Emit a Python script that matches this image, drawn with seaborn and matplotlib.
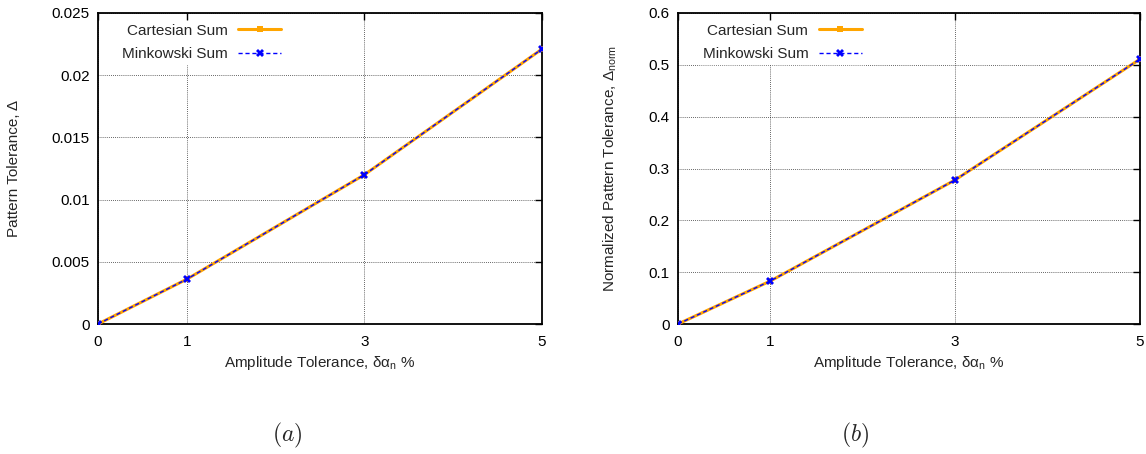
import matplotlib
matplotlib.use("Agg")
import matplotlib.pyplot as plt
import seaborn as sns
import pandas as pd
from matplotlib.ticker import FixedLocator, FuncFormatter

# Amplitude tolerance (percent) and resulting pattern tolerances
amp_tol = [0, 1, 3, 5]
cartesian_abs = [0.0, 0.0036, 0.0120, 0.0221]
minkowski_abs = [0.0, 0.0036, 0.0120, 0.0221]
cartesian_norm = [0.0, 0.083, 0.278, 0.511]
minkowski_norm = [0.0, 0.083, 0.278, 0.511]

series_names = ["Cartesian Sum", "Minkowski Sum"]
left_yticks = [0, 0.005, 0.01, 0.015, 0.02, 0.025]
right_yticks = [0, 0.1, 0.2, 0.3, 0.4, 0.5, 0.6]

sns.set_style("white")
plt.rcParams["font.family"] = ["Liberation Sans", "DejaVu Sans"]
plt.rcParams["mathtext.fontset"] = "custom"
plt.rcParams["mathtext.rm"] = "Liberation Sans"
plt.rcParams["mathtext.it"] = "Liberation Sans:italic"

FS = 11
W, H = 1146, 454
fig = plt.figure(figsize=(11.46, 4.54), dpi=100)
ax_a = fig.add_axes([98 / W, 1 - 324 / H, (542 - 98) / W, (324 - 13) / H])
ax_b = fig.add_axes([678 / W, 1 - 324 / H, (1140 - 678) / W, (324 - 13) / H])


def gp_fmt(v, pos):
    if abs(v) < 1e-12:
        return "0"
    return ("%.3f" % v).rstrip("0").rstrip(".")


def draw(ax, cart, mink, yticks, ylabel, ylabel_x):
    df = pd.DataFrame({
        "x": amp_tol * 2,
        "y": list(cart) + list(mink),
        "series": [series_names[0]] * len(amp_tol) + [series_names[1]] * len(amp_tol),
    })
    sns.lineplot(data=df[df.series == series_names[0]], x="x", y="y", ax=ax,
                 color="#FFA500", lw=2.2, marker="s", markersize=4,
                 markeredgewidth=0, label=series_names[0], zorder=3)
    sns.lineplot(data=df[df.series == series_names[1]], x="x", y="y", ax=ax,
                 color="#0000FF", lw=1.0, linestyle=(0, (3, 2)), marker="X",
                 markersize=5.5, markeredgewidth=0, label=series_names[1], zorder=4)
    ax.set_xlim(0, 5)
    ax.set_ylim(yticks[0], yticks[-1])
    ax.xaxis.set_major_locator(FixedLocator(amp_tol))
    ax.yaxis.set_major_locator(FixedLocator(yticks))
    ax.yaxis.set_major_formatter(FuncFormatter(gp_fmt))
    ax.grid(True, color="black", linestyle=(0, (1, 1.5)), lw=0.6, alpha=0.8)
    ax.set_axisbelow(True)
    for s in ax.spines.values():
        s.set_visible(True)
        s.set_color("black")
        s.set_linewidth(1.3)
    ax.tick_params(direction="in", length=5, width=1, top=True, right=True,
                   labelsize=FS, colors="black")
    ax.tick_params(axis="x", pad=8)
    ax.tick_params(axis="y", pad=6)
    ax.set_xlabel("Amplitude Tolerance, δα$_\\mathregular{n}$ %", fontsize=FS)
    ax.set_ylabel(ylabel, fontsize=FS)
    bbox = ax.get_position()
    ax_w_px = bbox.width * W
    ax.xaxis.set_label_coords(0.5, -30 / 311)
    ax.yaxis.set_label_coords((ylabel_x - bbox.x0 * W) / ax_w_px, 0.5)
    leg = ax.legend(loc="upper left", bbox_to_anchor=(0.03, 1.0), frameon=True,
                    markerfirst=False, fontsize=FS, handlelength=2.8,
                    borderpad=0.2, labelspacing=0.6, handletextpad=0.7,
                    fancybox=False)
    leg.get_frame().set_edgecolor("white")
    leg.get_frame().set_facecolor("white")
    leg.get_frame().set_alpha(1.0)
    leg._legend_box.align = "right"


draw(ax_a, cartesian_abs, minkowski_abs, left_yticks, "Pattern Tolerance, Δ", 21)
draw(ax_b, cartesian_norm, minkowski_norm, right_yticks,
     "Normalized Pattern Tolerance, Δ$_\\mathregular{norm}$", 619)

fig.text(287 / W, 1 - 435 / H, r"$(a)$", fontsize=17, ha="center", va="center",
         math_fontfamily="cm")
fig.text(855 / W, 1 - 435 / H, r"$(b)$", fontsize=17, ha="center", va="center",
         math_fontfamily="cm")

fig.savefig("out.png", dpi=100, facecolor="white")
